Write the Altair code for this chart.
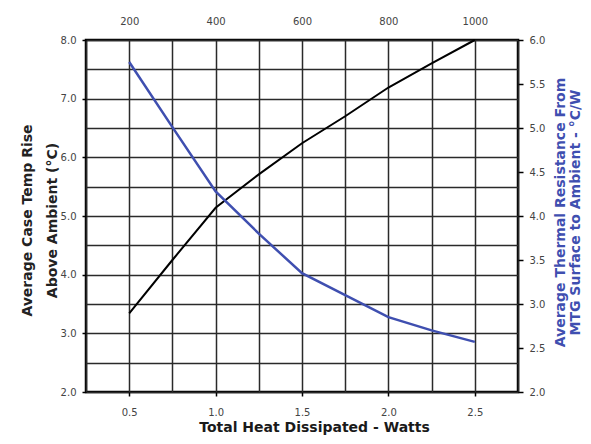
import altair as alt
import pandas as pd

# Data
watts = [0.5, 0.75, 1.0, 1.25, 1.5, 1.75, 2.0, 2.25, 2.5]
temp_rise = [3.34, 4.25, 5.14, 5.71, 6.24, 6.70, 7.19, 7.60, 8.0]
thermal_res = [5.75, 5.01, 4.28, 3.80, 3.35, 3.10, 2.85, 2.70, 2.57]
x_grid = [0.25, 0.5, 0.75, 1.0, 1.25, 1.5, 1.75, 2.0, 2.25, 2.5, 2.75]
left_vals = [2.0, 2.5, 3.0, 3.5, 4.0, 4.5, 5.0, 5.5, 6.0, 6.5, 7.0, 7.5, 8.0]
right_vals = [2.0, 2.5, 3.0, 3.5, 4.0, 4.5, 5.0, 5.5, 6.0]
top_ticks = [200, 400, 600, 800, 1000]

TFONT = "DejaVu Sans"
LFONT = "DejaVu Sans"
BLUE = "#3f4fb0"
GRID = "#2a2a2a"

df = pd.DataFrame({"watts": watts, "temp": temp_rise, "res": thermal_res})
top_df = pd.DataFrame({"top": top_ticks})

xscale = alt.Scale(domain=[0.25, 2.75], nice=False, zero=False)

black = alt.Chart(df).mark_line(color="black", strokeWidth=2).encode(
    x=alt.X(
        "watts:Q",
        scale=xscale,
        axis=alt.Axis(
            values=x_grid,
            labelExpr="(datum.value * 2) % 1 === 0 ? format(datum.value, '.1f') : ''",
            grid=True, gridColor=GRID, gridWidth=1.5, gridOpacity=1,
            domain=False,
            tickSize=4, tickColor="black", tickWidth=1.5,
            tickOpacity={"condition": {"test": "(datum.value * 2) % 1 === 0", "value": 1}, "value": 0},
            labelPadding=11, labelFontSize=10, labelColor="#444",
            title="Total Heat Dissipated - Watts",
            titleFontSize=14, titleFontWeight="bold", titleColor="#1a1a1a",
            titleX=228, titleY=28, titleBaseline="top",
        ),
    ),
    y=alt.Y(
        "temp:Q",
        scale=alt.Scale(domain=[2, 8], nice=False, zero=False),
        axis=alt.Axis(
            values=left_vals,
            labelExpr="datum.value % 1 === 0 ? format(datum.value, '.1f') : ''",
            grid=True, gridColor=GRID, gridWidth=1.5, gridOpacity=1,
            domain=False,
            tickSize=4, tickColor="black", tickWidth=1.5,
            tickOpacity={"condition": {"test": "datum.value % 1 === 0", "value": 1}, "value": 0},
            labelPadding=6, labelFontSize=10, labelColor="#444",
            title=["Average Case Temp Rise", "Above Ambient (°C)"],
            titleFontSize=14, titleFontWeight="bold", titleColor="#222",
            titleLineHeight=25, titleAngle=270, titleBaseline="bottom",
            titleX=-52, titleY=180,
        ),
    ),
)

blue = alt.Chart(df).mark_line(color=BLUE, strokeWidth=2.5).encode(
    x=alt.X("watts:Q", scale=xscale, axis=None),
    y=alt.Y(
        "res:Q",
        scale=alt.Scale(domain=[2, 6], nice=False, zero=False),
        axis=alt.Axis(
            orient="right",
            values=right_vals, format=".1f",
            grid=False, domain=False,
            tickSize=5, tickColor="black", tickWidth=1.5,
            labelPadding=6, labelFontSize=10, labelColor="#444",
            title=["Average  Thermal Resistance From", "MTG  Surface to Ambient - °C/W"],
            titleFontSize=14, titleFontWeight="bold", titleColor=BLUE,
            titleLineHeight=15, titleAngle=270, titleBaseline="bottom",
            titleX=49, titleY=172,
        ),
    ),
)

top = alt.Chart(top_df).mark_point(opacity=0).encode(
    x=alt.X(
        "top:Q",
        scale=alt.Scale(domain=[100, 1100], nice=False, zero=False),
        axis=alt.Axis(
            orient="top", values=top_ticks, format="d",
            grid=False, domain=False, ticks=False,
            labelPadding=14, labelFontSize=10, labelColor="#444",
            title=None,
        ),
    ),
    y=alt.value(0),
)

chart = (
    alt.layer(black, blue, top)
    .resolve_scale(x="independent", y="independent")
    .properties(
        width=432, height=352,
        autosize=alt.AutoSizeParams(type="none"),
        padding={"left": 78, "top": 32, "right": 65, "bottom": 44},
    )
    .configure_view(stroke="black", strokeWidth=2.5)
    .configure_axis(labelFont=LFONT, titleFont=TFONT)
)

chart.save("out.html", embed_options={"renderer": "svg", "actions": False})
